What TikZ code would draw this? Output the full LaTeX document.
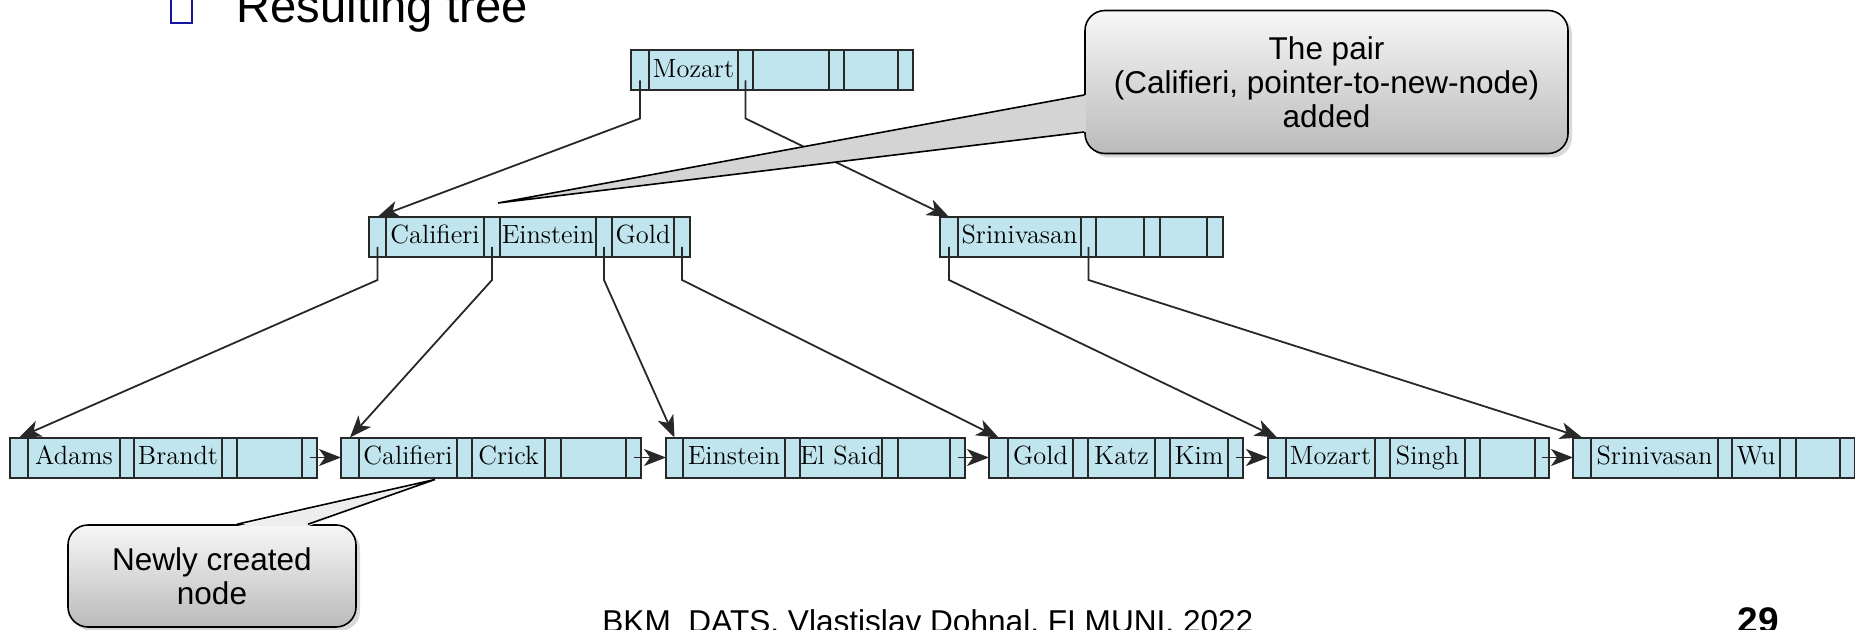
\documentclass[tikz,border=0pt]{standalone}
\usepackage{fontspec}
\newfontfamily\arialfont{Liberation Sans}
\usetikzlibrary{positioning,arrows.meta,shadows}

\definecolor{cellblue}{RGB}{193,229,239}
\definecolor{cellline}{RGB}{40,40,40}
\definecolor{bulletblue}{RGB}{20,20,160}

\tikzset{
  cell/.style={rectangle, draw=cellline, fill=cellblue, line width=1pt, inner sep=0pt, outer sep=0pt,
    minimum height=20pt, text height=0.7em, text depth=0pt, font=\fontsize{13.2}{14}\selectfont},
  ptrcell/.style={cell, minimum width=7.5pt},
  ptrline/.style={draw=cellline, line width=0.9pt, -{Stealth[length=11pt,width=8.5pt,inset=3pt]}},
  callbox/.style={rectangle, rounded corners=10pt, draw=black, line width=0.8pt, top color=black!3, bottom color=black!27,
    drop shadow={shadow xshift=2pt, shadow yshift=-2pt, opacity=0.3}, align=center,
    font=\arialfont\fontsize{15.75}{17}\selectfont},
  callline/.style={draw=black, line width=0.8pt},
}

\begin{document}
\begin{tikzpicture}[x=0.5pt, y=-0.5pt]
      \useasboundingbox (0,0) rectangle (1855,630);

      % heading
      \node[rectangle, draw=bulletblue, line width=1.2pt, minimum width=10.25pt, minimum height=15.4pt, inner sep=0pt] (bullet) at (181.5,7.4) {};
      \node[anchor=base west, inner sep=0pt, font=\arialfont\fontsize{23.6}{28}\selectfont] (title) at (236,23) {Resulting tree};

      % root
      \node[ptrcell, minimum width=9pt, anchor=west] (r0) at (631,70.5) {};
      \node[cell, minimum width=44.5pt, right=0pt of r0] (rk1) {Mozart};
      \node[ptrcell, right=0pt of rk1] (r1) {};
      \node[cell, minimum width=38pt, right=0pt of r1] (rk2) {};
      \node[ptrcell, right=0pt of rk2] (r2) {};
      \node[cell, minimum width=27pt, right=0pt of r2] (rk3) {};
      \node[ptrcell, right=0pt of rk3] (r3) {};

      % inner nodes
      \node[ptrcell, minimum width=8.5pt, anchor=west] (i0) at (369,237) {};
      \node[cell, minimum width=49pt, right=0pt of i0] (ik1) {Califieri};
      \node[ptrcell, minimum width=8pt, right=0pt of ik1] (i1) {};
      \node[cell, minimum width=48pt, right=0pt of i1] (ik2) {Einstein};
      \node[ptrcell, minimum width=8pt, right=0pt of ik2] (i2) {};
      \node[cell, minimum width=31pt, right=0pt of i2] (ik3) {Gold};
      \node[ptrcell, minimum width=8pt, right=0pt of ik3] (i3) {};

      \node[ptrcell, minimum width=9pt, anchor=west] (j0) at (940,237) {};
      \node[cell, minimum width=61.5pt, right=0pt of j0] (jk1) {Srinivasan};
      \node[ptrcell, right=0pt of jk1] (j1) {};
      \node[cell, minimum width=24pt, right=0pt of j1] (jk2) {};
      \node[ptrcell, minimum width=8pt, right=0pt of jk2] (j2) {};
      \node[cell, minimum width=23.5pt, right=0pt of j2] (jk3) {};
      \node[ptrcell, minimum width=8pt, right=0pt of jk3] (j3) {};

      % leaves
      \node[ptrcell, minimum width=9pt, anchor=west] (a0) at (10,457.5) {};
      \node[cell, minimum width=46pt, right=0pt of a0] (ak1) {Adams};
      \node[ptrcell, minimum width=7pt, right=0pt of ak1] (a1) {};
      \node[cell, minimum width=44pt, right=0pt of a1] (ak2) {Brandt};
      \node[ptrcell, right=0pt of ak2] (a2) {};
      \node[cell, minimum width=32.5pt, right=0pt of a2] (ak3) {};
      \node[ptrcell, right=0pt of ak3] (a3) {};

      \node[ptrcell, minimum width=9pt, anchor=west] (b0) at (341,457.5) {};
      \node[cell, minimum width=49pt, right=0pt of b0] (bk1) {Califieri};
      \node[ptrcell, right=0pt of bk1] (b1) {};
      \node[cell, minimum width=36.5pt, right=0pt of b1] (bk2) {Crick};
      \node[ptrcell, minimum width=8pt, right=0pt of bk2] (b2) {};
      \node[cell, minimum width=32.5pt, right=0pt of b2] (bk3) {};
      \node[ptrcell, right=0pt of bk3] (b3) {};

      \node[ptrcell, minimum width=8.5pt, anchor=west] (c0) at (666,457.5) {};
      \node[cell, minimum width=51pt, right=0pt of c0] (ck1) {Einstein};
      \node[ptrcell, right=0pt of ck1] (c1) {};
      \node[cell, minimum width=41pt, right=0pt of c1] (ck2) {El Said};
      \node[ptrcell, minimum width=8pt, right=0pt of ck2] (c2) {};
      \node[cell, minimum width=26pt, right=0pt of c2] (ck3) {};
      \node[ptrcell, right=0pt of ck3] (c3) {};

      \node[ptrcell, minimum width=9.5pt, anchor=west] (d0) at (989,457.5) {};
      \node[cell, minimum width=32.5pt, right=0pt of d0] (dk1) {Gold};
      \node[ptrcell, right=0pt of dk1] (d1) {};
      \node[cell, minimum width=33.5pt, right=0pt of d1] (dk2) {Katz};
      \node[ptrcell, right=0pt of dk2] (d2) {};
      \node[cell, minimum width=29pt, right=0pt of d2] (dk3) {Kim};
      \node[ptrcell, right=0pt of dk3] (d3) {};

      \node[ptrcell, minimum width=9pt, anchor=west] (e0) at (1268,457.5) {};
      \node[cell, minimum width=44.5pt, right=0pt of e0] (ek1) {Mozart};
      \node[ptrcell, right=0pt of ek1] (e1) {};
      \node[cell, minimum width=37.5pt, right=0pt of e1] (ek2) {Singh};
      \node[ptrcell, right=0pt of ek2] (e2) {};
      \node[cell, minimum width=27.5pt, right=0pt of e2] (ek3) {};
      \node[ptrcell, minimum width=7pt, right=0pt of ek3] (e3) {};

      \node[ptrcell, minimum width=9pt, anchor=west] (f0) at (1573,457.5) {};
      \node[cell, minimum width=63.5pt, right=0pt of f0] (fk1) {Srinivasan};
      \node[ptrcell, minimum width=7pt, right=0pt of fk1] (f1) {};
      \node[cell, minimum width=24pt, right=0pt of f1] (fk2) {Wu};
      \node[ptrcell, minimum width=8pt, right=0pt of fk2] (f2) {};
      \node[cell, minimum width=22pt, right=0pt of f2] (fk3) {};
      \node[ptrcell, right=0pt of fk3] (f3) {};

      % child pointers
      \draw[ptrline] ([shift={(0,10)}]r0.center) -- ([shift={(0,28)}]r0.south) -- (i0.north);
      \draw[ptrline] ([shift={(0,10)}]r1.center) -- ([shift={(0,28)}]r1.south) -- (j0.north);
      \draw[ptrline] ([shift={(0,10)}]i0.center) -- ([shift={(0,23)}]i0.south) -- (a0.north);
      \draw[ptrline] ([shift={(0,10)}]i1.center) -- ([shift={(0,23)}]i1.south) -- (b0.north);
      \draw[ptrline] ([shift={(0,10)}]i2.center) -- ([shift={(0,23)}]i2.south) -- (c0.north);
      \draw[ptrline] ([shift={(0,10)}]i3.center) -- ([shift={(0,23)}]i3.south) -- (d0.north);
      \draw[ptrline] ([shift={(0,10)}]j0.center) -- ([shift={(0,23)}]j0.south) -- (e0.north);
      \draw[ptrline] ([shift={(0,10)}]j1.center) -- ([shift={(0,23)}]j1.south) -- (f0.north);

      % leaf chain
      \draw[ptrline] (a3.center) -- (b0.west);
      \draw[ptrline] (b3.center) -- (c0.west);
      \draw[ptrline] (c3.center) -- (d0.west);
      \draw[ptrline] (d3.center) -- (e0.west);
      \draw[ptrline] (e3.center) -- (f0.west);

      % callouts
      \node[callbox, minimum width=241.5pt, minimum height=71.5pt] (pair) at (1326.5,82) {The pair\\(Califieri, pointer-to-new-node)\\added};
      \fill[black!17] ([shift={(2,13)}]pair.west) -- ([shift={(6,-14)}]i1.north) -- ([shift={(2,50)}]pair.west) -- cycle;
      \draw[callline] ([shift={(0,13)}]pair.west) -- ([shift={(6,-14)}]i1.north) -- ([shift={(0,50)}]pair.west);

      \node[callbox, minimum width=144pt, minimum height=51pt] (newly) at (212,576) {Newly created\\node};
      \fill[black!7] ([shift={(25,2)}]newly.north) -- ([shift={(27,2)}]bk1.south) -- ([shift={(96,2)}]newly.north) -- cycle;
      \draw[callline] ([shift={(25,0)}]newly.north) -- ([shift={(27,2)}]bk1.south) -- ([shift={(96,0)}]newly.north);

      % footer
      \node[anchor=base west, inner sep=0pt, font=\arialfont\fontsize{15.8}{18}\selectfont] (footer) at (602,632) {BKM\_DATS, Vlastislav Dohnal, FI MUNI, 2022};
      \node[anchor=base east, inner sep=0pt, font=\arialfont\bfseries\fontsize{18.5}{20}\selectfont] (pagenum) at (1779,633) {29};
    \end{tikzpicture}
\end{document}
